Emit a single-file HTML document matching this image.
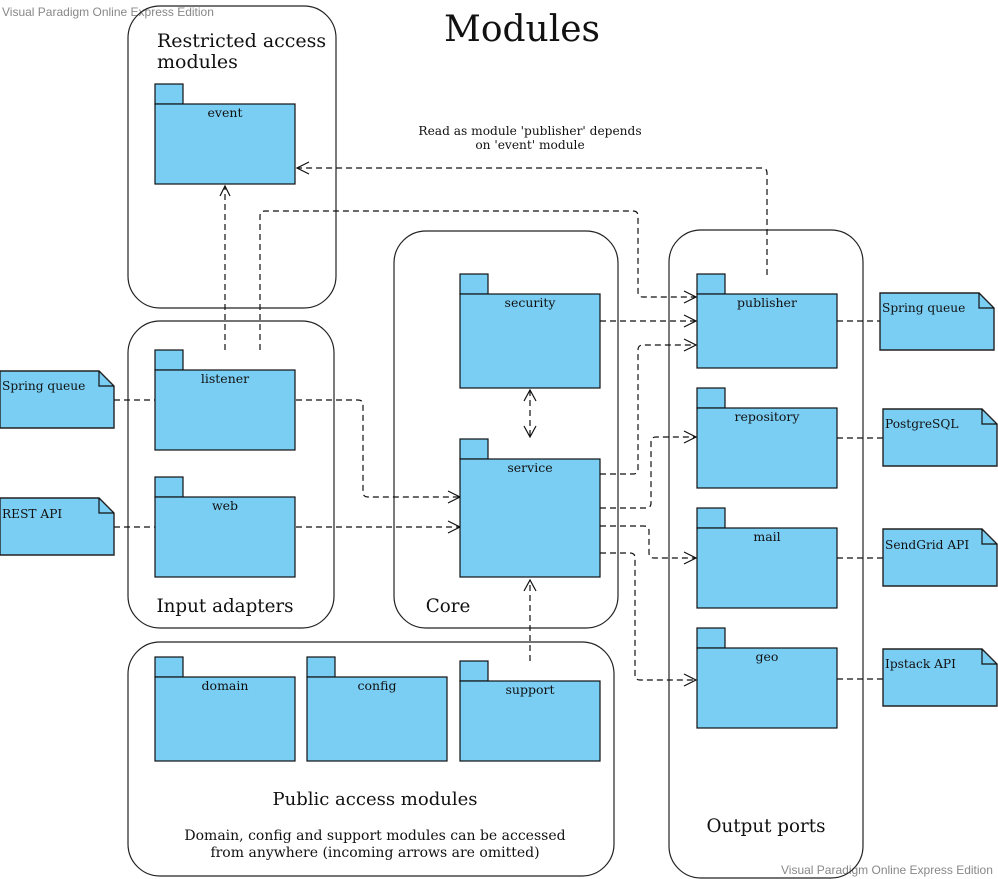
<!DOCTYPE html>
<html><head><meta charset="utf-8"><style>
body{margin:0;background:#fff}
svg{display:block}
text{font-family:"DejaVu Serif","Liberation Serif",serif;fill:#111}
.wm{font-family:"Liberation Sans","DejaVu Sans",sans-serif;fill:#888;font-size:12px}
.pk{fill:#7acef4;stroke:#111;stroke-width:1.2}
.ct{fill:none;stroke:#222;stroke-width:1.2}
.d{fill:none;stroke:#111;stroke-width:1.2;stroke-dasharray:6,4}
.ah{fill:none;stroke:#111;stroke-width:1.2}
.nt{fill:#7acef4;stroke:#222;stroke-width:1.4}
</style></head><body>
<svg width="998" height="879" viewBox="0 0 998 879" xmlns="http://www.w3.org/2000/svg">
<text class="wm" x="2" y="16">Visual Paradigm Online Express Edition</text>
<text class="wm" x="781" y="874">Visual Paradigm Online Express Edition</text>
<text x="522" y="41" font-size="36" text-anchor="middle">Modules</text>

<rect class="ct" x="128" y="6" width="208" height="302" rx="32"/>
<rect class="ct" x="128" y="321" width="206" height="307" rx="32"/>
<rect class="ct" x="394" y="231" width="224" height="397" rx="32"/>
<rect class="ct" x="128" y="642" width="486" height="234" rx="32"/>
<rect class="ct" x="669" y="230" width="194" height="648" rx="32"/>
<text x="157" y="47" font-size="19">Restricted access</text>
<text x="157" y="68" font-size="19">modules</text>
<text x="225" y="612" font-size="18.3" text-anchor="middle">Input adapters</text>
<text x="448" y="612" font-size="18.3" text-anchor="middle">Core</text>
<text x="375" y="805" font-size="18" text-anchor="middle">Public access modules</text>
<text x="375" y="840" font-size="14" text-anchor="middle">Domain, config and support modules can be accessed</text>
<text x="375" y="857" font-size="14" text-anchor="middle">from anywhere (incoming arrows are omitted)</text>
<text x="766" y="832" font-size="18.3" text-anchor="middle">Output ports</text>
<text x="530" y="135" font-size="12.2" text-anchor="middle">Read as module 'publisher' depends</text>
<text x="530" y="149" font-size="12.2" text-anchor="middle">on 'event' module</text>

<path class="d" d="M225 350 V186"/>
<path class="ah" d="M220 196 L225 186 L230 196"/>
<path class="d" d="M260 350 V216 Q260 211 265 211 H633 Q638 211 638 216 V292 Q638 297 643 297 H695"/>
<path class="d" d="M767 275 V173 Q767 168 762 168 H297"/>
<path class="ah" d="M309 162 L297 168 L309 174"/>
<path class="d" d="M114 400 H155"/>
<path class="d" d="M114 527 H155"/>
<path class="d" d="M296 400 H358 Q363 400 363 405 V492 Q363 497 368 497 H459"/>
<path class="d" d="M296 527 H459"/>
<path class="d" d="M600 321 H695"/>
<path class="d" d="M530 390 V437"/>
<path class="ah" d="M524 401 L530 390 L536 401 M524 426 L530 437 L536 426"/>
<path class="d" d="M600 474 H633 Q638 474 638 469 V350 Q638 345 643 345 H695"/>
<path class="d" d="M600 508 H646 Q651 508 651 503 V442 Q651 437 656 437 H695"/>
<path class="d" d="M600 526 H644 Q649 526 649 531 V553 Q649 558 654 558 H695"/>
<path class="d" d="M600 553 H630 Q635 553 635 558 V675 Q635 680 640 680 H695"/>
<path class="d" d="M530 661 V580"/>
<path class="ah" d="M524 591 L530 580 L536 591"/>
<path class="ah" d="M684 291 L696 297 L684 303 M684 315 L696 321 L684 327 M684 339 L696 345 L684 351 M684 431 L696 437 L684 443 M684 552 L696 558 L684 564 M684 674 L696 680 L684 686 M448 491 L460 497 L448 503 M448 521 L460 527 L448 533"/>
<path class="d" d="M837 321 H880 M837 438 H883 M837 558 H883 M837 679 H883"/>

<g>
<rect class="pk" x="155" y="84" width="28" height="20"/><rect class="pk" x="155" y="104" width="140" height="80"/>
<text x="225" y="117" font-size="12.5" text-anchor="middle">event</text>
<rect class="pk" x="155" y="350" width="28" height="20"/><rect class="pk" x="155" y="370" width="140" height="80"/>
<text x="225" y="383" font-size="12.5" text-anchor="middle">listener</text>
<rect class="pk" x="155" y="477" width="28" height="20"/><rect class="pk" x="155" y="497" width="140" height="80"/>
<text x="225" y="510" font-size="12.5" text-anchor="middle">web</text>
<rect class="pk" x="460" y="274" width="28" height="20"/><rect class="pk" x="460" y="294" width="140" height="94"/>
<text x="530" y="307" font-size="12.5" text-anchor="middle">security</text>
<rect class="pk" x="460" y="439" width="28" height="20"/><rect class="pk" x="460" y="459" width="140" height="118"/>
<text x="530" y="472" font-size="12.5" text-anchor="middle">service</text>
<rect class="pk" x="697" y="274" width="28" height="20"/><rect class="pk" x="697" y="294" width="140" height="74"/>
<text x="767" y="307" font-size="12.5" text-anchor="middle">publisher</text>
<rect class="pk" x="697" y="388" width="28" height="20"/><rect class="pk" x="697" y="408" width="140" height="80"/>
<text x="767" y="421" font-size="12.5" text-anchor="middle">repository</text>
<rect class="pk" x="697" y="508" width="28" height="20"/><rect class="pk" x="697" y="528" width="140" height="80"/>
<text x="767" y="541" font-size="12.5" text-anchor="middle">mail</text>
<rect class="pk" x="697" y="628" width="28" height="20"/><rect class="pk" x="697" y="648" width="140" height="80"/>
<text x="767" y="661" font-size="12.5" text-anchor="middle">geo</text>
<rect class="pk" x="155" y="657" width="28" height="20"/><rect class="pk" x="155" y="677" width="140" height="84"/>
<text x="225" y="690" font-size="12.5" text-anchor="middle">domain</text>
<rect class="pk" x="307" y="657" width="28" height="20"/><rect class="pk" x="307" y="677" width="140" height="84"/>
<text x="377" y="690" font-size="12.5" text-anchor="middle">config</text>
<rect class="pk" x="460" y="661" width="28" height="20"/><rect class="pk" x="460" y="681" width="140" height="80"/>
<text x="530" y="694" font-size="12.5" text-anchor="middle">support</text>
</g>

<g>
<path class="nt" d="M0 371 H99 L114 386 V428 H0 Z"/><path class="ah" d="M99 371 V386 H114"/>
<text x="2" y="390" font-size="12.2">Spring queue</text>
<path class="nt" d="M0 498 H99 L114 513 V555 H0 Z"/><path class="ah" d="M99 498 V513 H114"/>
<text x="2" y="518" font-size="12.2">REST API</text>
<path class="nt" d="M880 293 H979 L994 308 V350 H880 Z"/><path class="ah" d="M979 293 V308 H994"/>
<text x="882" y="312" font-size="12.2">Spring queue</text>
<path class="nt" d="M883 409 H982 L997 424 V466 H883 Z"/><path class="ah" d="M982 409 V424 H997"/>
<text x="885" y="428" font-size="12.2">PostgreSQL</text>
<path class="nt" d="M883 529 H982 L997 544 V586 H883 Z"/><path class="ah" d="M982 529 V544 H997"/>
<text x="885" y="549" font-size="12.2">SendGrid API</text>
<path class="nt" d="M883 649 H982 L997 664 V706 H883 Z"/><path class="ah" d="M982 649 V664 H997"/>
<text x="885" y="668" font-size="12.2">Ipstack API</text>
</g>
</svg>
</body></html>
